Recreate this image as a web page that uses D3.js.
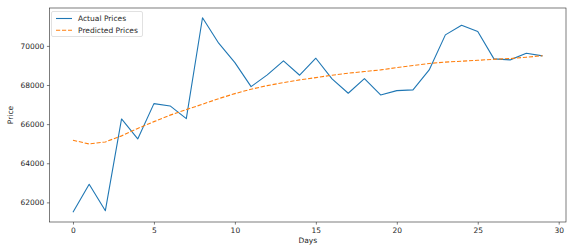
<!DOCTYPE html>
<html><head><meta charset="utf-8">
<script src="https://cdn.jsdelivr.net/npm/d3@7"></script>
<style>body{margin:0;background:#fff;} svg{display:block;} text{font-family:"DejaVu Sans",sans-serif;fill:#262626;}</style>
</head><body>
<svg id="c" width="567" height="246"></svg>
<script>
const days = d3.range(0, 30);
const actualPrices = [61494, 62925, 61576, 66266, 65243, 67049, 66931, 66281, 71440, 70138,
  69146, 67918, 68517, 69233, 68500, 69370, 68312, 67580, 68330, 67494,
  67714, 67749, 68772, 70563, 71059, 70733, 69335, 69284, 69625, 69488];
const predictedPrices = [65176, 64987, 65090, 65400, 65780, 66128, 66460, 66742, 67018, 67304,
  67560, 67785, 67970, 68124, 68261, 68380, 68500, 68603, 68687, 68772,
  68890, 69000, 69100, 69170, 69217, 69265, 69315, 69355, 69420, 69500];
const xTicks = [0, 5, 10, 15, 20, 25, 30];
const yTicks = [62000, 64000, 66000, 68000, 70000];
const seriesNames = ["Actual Prices", "Predicted Prices"];
const colors = ["#1f77b4", "#ff7f0e"];

const svg = d3.select("#c");
const L = 49.5, R = 566, T = 8, B = 222;
const allV = actualPrices.concat(predictedPrices);
const vmin = d3.min(allV), vmax = d3.max(allV);
const vpad = (vmax - vmin) * 0.05;
const x = d3.scaleLinear().domain([0 - 29 * 0.05, 29 + 29 * 0.05]).range([L, R]);
const y = d3.scaleLinear().domain([vmin - vpad, vmax + vpad]).range([B, T]);

const fs = 7.5;
const xAxis = d3.axisBottom(x).tickValues(xTicks).tickFormat(d3.format("d")).tickSizeOuter(0).tickSize(2.6).tickPadding(2.6);
const yAxis = d3.axisLeft(y).tickValues(yTicks).tickFormat(d3.format("d")).tickSizeOuter(0).tickSize(2.6).tickPadding(2.6);

const gx = svg.append("g").attr("transform", `translate(0,${B})`).call(xAxis);
const gy = svg.append("g").attr("transform", `translate(${L},0)`).call(yAxis);
[gx, gy].forEach(g => {
  g.select(".domain").remove();
  g.selectAll("line").attr("stroke", "#262626").attr("stroke-width", 0.6);
  g.selectAll("text").attr("font-size", fs).attr("font-family", "DejaVu Sans").style("fill", "#262626");
});

const line = d3.line().x((d, i) => x(days[i])).y(d => y(d));
svg.append("path").datum(actualPrices).attr("d", line).attr("fill", "none")
  .attr("stroke", colors[0]).attr("stroke-width", 1.1).attr("stroke-linejoin", "round");
svg.append("path").datum(predictedPrices).attr("d", line).attr("fill", "none")
  .attr("stroke", colors[1]).attr("stroke-width", 1.1).attr("stroke-dasharray", "4.2,1.8");

// frame
svg.append("rect").attr("x", L).attr("y", T).attr("width", R - L).attr("height", B - T)
  .attr("fill", "none").attr("stroke", "#262626").attr("stroke-width", 0.6);

// axis labels
svg.append("text").attr("x", (L + R) / 2).attr("y", 243).attr("text-anchor", "middle")
  .attr("font-size", fs).text("Days");
svg.append("text").attr("transform", `translate(12.5,${(T + B) / 2}) rotate(-90)`)
  .attr("text-anchor", "middle").attr("font-size", fs).text("Price");

// legend
const lg = svg.append("g");
lg.append("rect").attr("x", 51.5).attr("y", 11.5).attr("width", 91).attr("height", 25).attr("rx", 1.5)
  .attr("fill", "#fff").attr("fill-opacity", 0.8).attr("stroke", "#ccc").attr("stroke-width", 0.6);
seriesNames.forEach((n, i) => {
  const yy = 18.5 + i * 11.7;
  lg.append("line").attr("x1", 56).attr("x2", 72).attr("y1", yy).attr("y2", yy)
    .attr("stroke", colors[i]).attr("stroke-width", 1.1)
    .attr("stroke-dasharray", i === 1 ? "4.2,1.8" : null);
  lg.append("text").attr("x", 78).attr("y", yy + 2.7).attr("font-size", fs).text(n);
});
</script>
</body></html>
